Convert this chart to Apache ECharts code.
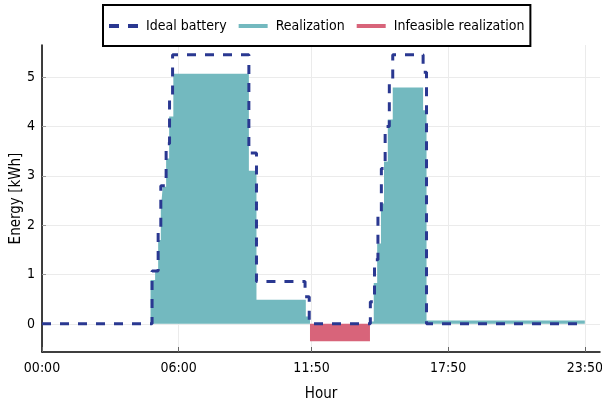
<!DOCTYPE html>
<html>
<head>
<meta charset="utf-8">
<script src="https://cdn.jsdelivr.net/npm/echarts@6/dist/echarts.min.js"></script>
<style>
html,body{margin:0;padding:0;background:#fff;}
#chart{width:602px;height:404px;}
</style>
</head>
<body>
<div id="chart"></div>
<script>
// ---- data ----
const tickLabels = ["00:00", "06:00", "11:50", "17:50", "23:50"];
const yTickValues = [0, 1, 2, 3, 4, 5];

const idealTimes  = ["00:00","04:50","05:06","05:13","05:27","05:36","05:44","09:05","09:25","11:33","11:44","14:25","14:36","14:45","14:54","15:04","15:15","15:24","16:44","16:53","23:50"];
const idealValues = [0, 1.07, 1.95, 2.8, 3.65, 4.55, 5.45, 3.46, 0.86, 0.55, 0, 0.45, 1.3, 2.17, 3.15, 4.0, 4.9, 5.45, 5.1, 0, 0];

const realTimes  = ["00:00","04:46","04:58","05:06","05:13","05:18","05:27","05:35","05:46","09:05","09:25","11:35","11:46","14:23","14:34","14:43","14:53","15:01","15:11","15:24","16:44","16:53","23:50"];
const realValues = [0, 0.89, 1.09, 1.7, 2.31, 2.78, 3.35, 4.2, 5.07, 3.1, 0.49, 0.15, 0, 0.05, 0.83, 1.63, 2.44, 3.29, 4.14, 4.79, 4.33, 0.07, 0.07];

const infeasTimes  = ["11:46", "14:24"];
const infeasValues = [-0.35, -0.35];

// ---- helpers ----
function toMin(s){ const p = s.split(':').map(Number); return p[0]*60 + p[1]; }
function fmt(m){ const h = Math.floor(m/60), mm = Math.round(m%60); return String(h).padStart(2,'0') + ':' + String(mm).padStart(2,'0'); }
function pairs(ts, vs){ return ts.map((t,i)=>[toMin(t), vs[i]]); }
const xTickValues = tickLabels.map(toMin);

const FONT = "'DejaVu Sans Condensed', 'DejaVu Sans', sans-serif";
const TEAL = '#73b9bf', RED = '#d8647a', BLUE = '#2a3891';

const chart = echarts.init(document.getElementById('chart'), null, {renderer:'canvas'});
chart.setOption({
  animation:false,
  backgroundColor:'#fff',
  textStyle:{fontFamily:FONT},
  grid:{left:42, right:2, top:45, bottom:52, containLabel:false, outerBoundsMode:'none'},
  legend:{
    top:5, left:103,
    itemWidth:29, itemHeight:4, itemGap:12,
    borderColor:'#000', borderWidth:2, borderRadius:0,
    padding:[14,6,13,6],
    backgroundColor:'#fff',
    textStyle:{fontSize:14, color:'#000', fontFamily:FONT, padding:[0,0,0,3]},
    data:[
      {name:'Ideal battery', icon:'path://M0,0h10v4h-10z M19,0h10v4h-10z'},
      {name:'Realization', icon:'rect'},
      {name:'Infeasible realization', icon:'rect'}
    ]
  },
  xAxis:{
    type:'value', min:0, max:1470,
    name:'Hour', nameLocation:'middle', nameGap:35, nameMoveOverlap:false,
    nameTextStyle:{fontSize:15, color:'#000', fontFamily:FONT},
    axisLine:{onZero:false, lineStyle:{color:'#000', width:1.5}},
    axisTick:{show:true, inside:true, length:5, customValues:xTickValues, lineStyle:{color:'#666'}},
    axisLabel:{customValues:xTickValues, formatter:v=>fmt(v), fontSize:14, color:'#000', margin:9, fontFamily:FONT},
    splitLine:{show:true, lineStyle:{color:'#ebebeb', width:1}}
  },
  yAxis:{
    type:'value', min:-0.57, max:5.65,
    name:'Energy [kWh]', nameLocation:'middle', nameGap:18, nameMoveOverlap:false,
    nameTextStyle:{fontSize:15, color:'#000', fontFamily:FONT},
    axisLine:{show:true, onZero:false, lineStyle:{color:'#000', width:1.5}},
    axisTick:{show:true, inside:true, length:4, customValues:yTickValues, lineStyle:{color:'#999'}},
    axisLabel:{customValues:yTickValues, fontSize:14, color:'#000', margin:7, fontFamily:FONT},
    splitLine:{show:true, lineStyle:{color:'#ebebeb', width:1}}
  },
  series:[
    {name:'Ideal battery', type:'line', step:'end', symbol:'none', z:5,
     color:BLUE, data:pairs(idealTimes, idealValues),
     lineStyle:{color:BLUE, width:3, type:[9,9]}},
    {name:'Realization', type:'line', step:'end', symbol:'none', z:3,
     color:TEAL, data:pairs(realTimes, realValues),
     lineStyle:{width:0, color:TEAL}, areaStyle:{color:TEAL, opacity:1}},
    {name:'Infeasible realization', type:'line', step:'end', symbol:'none', z:3,
     color:RED, data:pairs(infeasTimes, infeasValues),
     lineStyle:{width:0, color:RED}, areaStyle:{color:RED, opacity:1}}
  ]
});
</script>
</body>
</html>
